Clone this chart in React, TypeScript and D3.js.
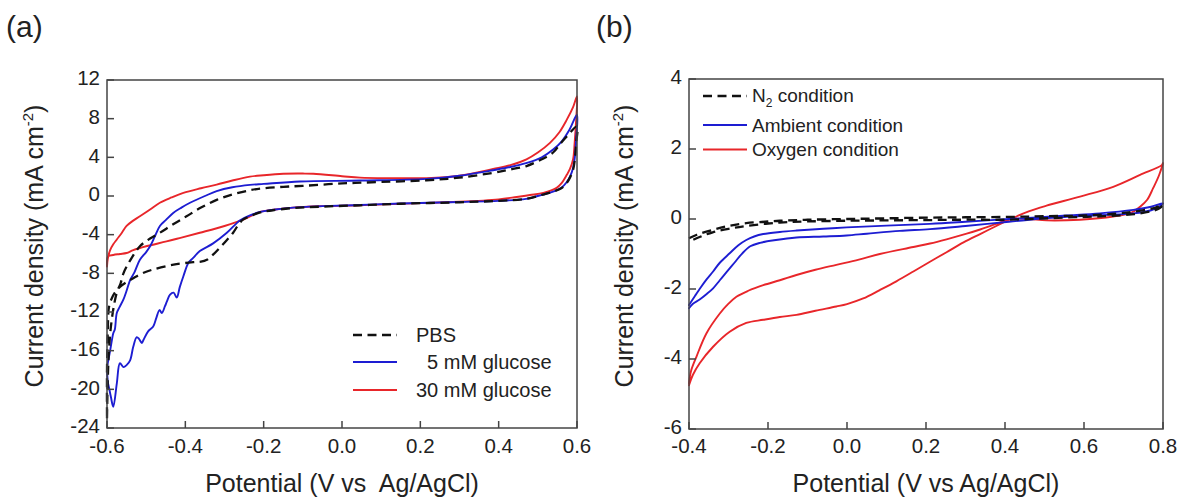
import React from 'react';
import * as d3 from 'd3';

// ---------- Panel (a) data: [potential V, current density mA cm^-2] ----------
const pbsA: [number, number][] = [
  [-0.6, -23], [-0.598, -19], [-0.595, -16], [-0.59, -13.5], [-0.583, -11.5], [-0.575, -10],
  [-0.565, -9], [-0.558, -8], [-0.54, -6.6], [-0.516, -5.2], [-0.49, -4.4], [-0.465, -3.8],
  [-0.43, -2.9], [-0.397, -2.1], [-0.36, -1.2], [-0.32, -0.4], [-0.28, 0.15], [-0.235, 0.6],
  [-0.2, 0.8], [-0.15, 0.95], [-0.1, 1.05], [0, 1.3], [0.1, 1.45], [0.216, 1.63], [0.3, 1.9],
  [0.386, 2.4], [0.43, 2.75], [0.471, 3.1], [0.51, 3.8], [0.539, 4.5], [0.557, 5.4],
  [0.575, 6.2], [0.6, 7.2],
  [0.598, 5.5], [0.595, 4.0], [0.59, 2.7], [0.582, 1.9], [0.573, 1.3], [0.56, 0.8], [0.539, 0.45],
  [0.513, 0.15], [0.47, -0.3], [0.4, -0.5], [0.3, -0.65], [0.15, -0.8], [0.046, -0.96],
  [-0.05, -1.1], [-0.125, -1.24], [-0.18, -1.5], [-0.209, -1.7], [-0.235, -2.1], [-0.253, -2.45],
  [-0.265, -3.0], [-0.278, -3.8], [-0.295, -4.6], [-0.312, -5.35], [-0.33, -6.1], [-0.345, -6.6],
  [-0.36, -6.8], [-0.38, -6.85], [-0.43, -7.1], [-0.482, -7.6], [-0.51, -8.0], [-0.533, -8.5],
  [-0.55, -8.9], [-0.567, -9.4], [-0.58, -10.0], [-0.588, -10.6], [-0.595, -11.5],
  [-0.598, -14], [-0.6, -18], [-0.6, -23],
];

const glucose5A: [number, number][] = [
  [-0.6, -17.7], [-0.592, -16], [-0.584, -14.2], [-0.58, -13.8], [-0.575, -12.1], [-0.568, -11.5],
  [-0.558, -10.7], [-0.55, -9.8], [-0.541, -8.7], [-0.53, -7.9], [-0.516, -6.6], [-0.5, -5.8],
  [-0.49, -5.2], [-0.478, -4.2], [-0.465, -3.1], [-0.45, -2.5], [-0.431, -1.75], [-0.41, -1.2],
  [-0.388, -0.7], [-0.35, 0.0], [-0.32, 0.5], [-0.28, 0.9], [-0.235, 1.15], [-0.2, 1.25],
  [-0.107, 1.5], [0.046, 1.6], [0.216, 1.77], [0.3, 2.1], [0.386, 2.67], [0.43, 3.0],
  [0.47, 3.4], [0.51, 4.0], [0.539, 4.8], [0.56, 5.6], [0.58, 6.8], [0.6, 8.4],
  [0.598, 6], [0.595, 4.2], [0.59, 2.9], [0.582, 2.0], [0.573, 1.4], [0.56, 0.85], [0.539, 0.45],
  [0.513, 0.15], [0.47, -0.3], [0.4, -0.5], [0.3, -0.62], [0.15, -0.78], [0.046, -0.93],
  [-0.05, -1.05], [-0.125, -1.2], [-0.18, -1.45], [-0.209, -1.65], [-0.235, -2.0], [-0.26, -2.5],
  [-0.294, -3.8], [-0.329, -4.9], [-0.363, -5.7], [-0.38, -6.4], [-0.392, -6.9], [-0.405, -8.3],
  [-0.414, -9.4], [-0.422, -10.5], [-0.43, -10.0], [-0.439, -10.2], [-0.447, -10.9],
  [-0.452, -11.4], [-0.46, -12.1], [-0.466, -11.8], [-0.474, -12.6], [-0.482, -13.5],
  [-0.495, -14.0], [-0.507, -14.9], [-0.511, -15.2], [-0.518, -14.8], [-0.524, -14.6],
  [-0.533, -15.6], [-0.541, -17.0], [-0.55, -17.5], [-0.558, -17.7], [-0.567, -17.3],
  [-0.575, -19.4], [-0.584, -21.8], [-0.59, -20.8], [-0.595, -19.8], [-0.598, -19.2], [-0.6, -17.7],
];

const glucose30A: [number, number][] = [
  [-0.6, -7.3], [-0.598, -6.5], [-0.592, -5.6], [-0.584, -5.0], [-0.575, -4.5], [-0.562, -3.8],
  [-0.55, -3.1], [-0.535, -2.6], [-0.516, -2.1], [-0.49, -1.4], [-0.465, -0.7], [-0.435, -0.15],
  [-0.405, 0.32], [-0.36, 0.8], [-0.32, 1.18], [-0.28, 1.6], [-0.235, 2.0], [-0.2, 2.15],
  [-0.15, 2.3], [-0.1, 2.32], [-0.073, 2.3], [0.0, 2.05], [0.046, 1.9], [0.13, 1.85],
  [0.216, 1.85], [0.3, 2.1], [0.386, 2.8], [0.43, 3.2], [0.471, 3.8], [0.5, 4.5], [0.531, 5.5],
  [0.555, 6.6], [0.574, 7.9], [0.59, 9.2], [0.6, 10.3],
  [0.598, 8], [0.594, 5.5], [0.59, 3.8], [0.582, 2.8], [0.574, 2.2], [0.56, 1.3], [0.548, 0.84],
  [0.514, 0.32], [0.48, 0.1], [0.446, -0.1], [0.4, -0.35], [0.3, -0.6], [0.15, -0.8],
  [0.046, -0.95], [-0.05, -1.05], [-0.125, -1.2], [-0.18, -1.45], [-0.209, -1.65],
  [-0.252, -2.45], [-0.3, -3.1], [-0.363, -3.8], [-0.41, -4.3], [-0.448, -4.7], [-0.5, -5.2],
  [-0.533, -5.6], [-0.55, -5.9], [-0.567, -6.0], [-0.584, -6.1], [-0.597, -6.25], [-0.6, -7.3],
];

// ---------- Panel (b) data ----------
const n2B: [number, number][] = [
  [-0.4, -0.55], [-0.38, -0.45], [-0.34, -0.31], [-0.3, -0.2], [-0.255, -0.12], [-0.2, -0.07],
  [-0.17, -0.05], [-0.1, -0.02], [0, 0.0], [0.1, 0.02], [0.21, 0.04], [0.3, 0.05], [0.41, 0.06],
  [0.5, 0.08], [0.6, 0.1], [0.68, 0.15], [0.72, 0.2], [0.76, 0.27], [0.78, 0.32], [0.8, 0.4],
  [0.79, 0.3], [0.77, 0.22], [0.72, 0.13], [0.65, 0.08], [0.55, 0.04], [0.41, -0.02],
  [0.3, -0.02], [0.21, -0.03], [0.1, -0.04], [0, -0.05], [-0.1, -0.07], [-0.17, -0.1],
  [-0.255, -0.2], [-0.3, -0.28], [-0.34, -0.38], [-0.37, -0.5], [-0.4, -0.65],
];

const ambientB: [number, number][] = [
  [-0.4, -2.46], [-0.385, -2.2], [-0.37, -1.95], [-0.355, -1.72], [-0.339, -1.5],
  [-0.322, -1.25], [-0.297, -0.98], [-0.275, -0.75], [-0.255, -0.6], [-0.235, -0.5],
  [-0.212, -0.43], [-0.17, -0.37], [-0.128, -0.33], [-0.06, -0.28], [-0.001, -0.24], [0.1, -0.19],
  [0.21, -0.14], [0.3, -0.08], [0.41, 0.0], [0.5, 0.06], [0.556, 0.1], [0.64, 0.16],
  [0.725, 0.26], [0.77, 0.35], [0.8, 0.45],
  [0.79, 0.35], [0.77, 0.25], [0.725, 0.16], [0.64, 0.11], [0.556, 0.06], [0.5, 0.02],
  [0.41, -0.08], [0.3, -0.2], [0.21, -0.29], [0.134, -0.34], [0.05, -0.42], [-0.001, -0.47],
  [-0.06, -0.5], [-0.128, -0.53], [-0.18, -0.6], [-0.22, -0.68], [-0.245, -0.78],
  [-0.265, -0.98], [-0.285, -1.25], [-0.305, -1.52], [-0.322, -1.75], [-0.339, -1.98],
  [-0.356, -2.15], [-0.373, -2.3], [-0.39, -2.42], [-0.4, -2.55],
];

const oxygenB: [number, number][] = [
  [-0.4, -4.7], [-0.395, -4.35], [-0.381, -3.93], [-0.356, -3.27], [-0.322, -2.7], [-0.3, -2.42],
  [-0.28, -2.22], [-0.25, -2.05], [-0.212, -1.89], [-0.17, -1.75], [-0.128, -1.6], [-0.08, -1.45],
  [-0.027, -1.31], [0.03, -1.16], [0.083, -1.0], [0.168, -0.8], [0.21, -0.7], [0.252, -0.58],
  [0.303, -0.42], [0.337, -0.3], [0.38, -0.13], [0.42, 0.0], [0.46, 0.0], [0.505, -0.04],
  [0.59, -0.02], [0.674, 0.07], [0.72, 0.18], [0.742, 0.35], [0.76, 0.55], [0.775, 0.88],
  [0.79, 1.25], [0.8, 1.6],
  [0.797, 1.54], [0.742, 1.26], [0.674, 0.92], [0.59, 0.64], [0.505, 0.38], [0.46, 0.22],
  [0.42, 0.03], [0.387, -0.15], [0.337, -0.43], [0.295, -0.67], [0.252, -0.95], [0.21, -1.22],
  [0.168, -1.5], [0.125, -1.78], [0.083, -2.03], [0.041, -2.27], [0.0, -2.43], [-0.027, -2.5],
  [-0.08, -2.62], [-0.128, -2.74], [-0.17, -2.8], [-0.212, -2.88], [-0.255, -2.97],
  [-0.297, -3.22], [-0.339, -3.65], [-0.373, -4.12], [-0.39, -4.45], [-0.4, -4.75],
];

// ---------- Ticks ----------
const xTicksA = [-0.6, -0.4, -0.2, 0.0, 0.2, 0.4, 0.6];
const yTicksA = [-24, -20, -16, -12, -8, -4, 0, 4, 8, 12];
const xTicksB = [-0.4, -0.2, 0.0, 0.2, 0.4, 0.6, 0.8];
const yTicksB = [-6, -4, -2, 0, 2, 4];

const legendA = ['PBS', '  5 mM glucose', '30 mM glucose'];
const legendB = ['N', 'Ambient condition', 'Oxygen condition'];

const RED = '#e8262a';
const BLUE = '#1d1dd2';
const BLACK = '#111';
const FONT = '"Liberation Sans", Arial, Helvetica, sans-serif';
const AXIS = '#444';

type Panel = {
  x: d3.ScaleLinear<number, number>;
  y: d3.ScaleLinear<number, number>;
  xTicks: number[];
  yTicks: number[];
  yLabelX: number;
  doubleSpace: boolean;
};

function Frame({ x, y, xTicks, yTicks, yLabelX, doubleSpace }: Panel) {
  const [x0, x1] = x.range();
  const [y0, y1] = y.range();
  const tickLen = 7;
  const xc = (x0 + x1) / 2;
  return (
    <g fontFamily={FONT}>
      <rect x={x0} y={y1} width={x1 - x0} height={y0 - y1} fill="none" stroke={AXIS} strokeWidth={1.5} />
      {xTicks.map((t) => (
        <g key={'x' + t}>
          <line x1={x(t)} x2={x(t)} y1={y0} y2={y0 - tickLen} stroke={AXIS} strokeWidth={1.5} />
          <text x={x(t)} y={453} textAnchor="middle" fontSize={20.5} fill="#222">
            {t.toFixed(1)}
          </text>
        </g>
      ))}
      {yTicks.map((t) => (
        <g key={'y' + t}>
          <line x1={x0} x2={x0 + tickLen} y1={y(t)} y2={y(t)} stroke={AXIS} strokeWidth={1.5} />
          <text x={x0 - 7} y={y(t) - 2} dy="0.35em" textAnchor="end" fontSize={20.5} fill="#222">
            {String(t)}
          </text>
        </g>
      ))}
      <text
        x={xc}
        y={492}
        textAnchor="middle"
        fontSize={25}
        fill="#222"
        xmlSpace="preserve"
        style={{ whiteSpace: 'pre' }}
      >
        {doubleSpace ? 'Potential (V vs  Ag/AgCl)' : 'Potential (V vs Ag/AgCl)'}
      </text>
      <text
        transform={`translate(${yLabelX},246) rotate(-90)`}
        textAnchor="middle"
        fontSize={25}
        fill="#222"
      >
        Current density (mA cm<tspan dy={-10} fontSize={15}>-2</tspan>
        <tspan dy={10}>)</tspan>
      </text>
    </g>
  );
}

export default function App() {
  const xA = d3.scaleLinear().domain([-0.6, 0.6]).range([107, 577]);
  const yA = d3.scaleLinear().domain([-24, 12]).range([428, 80]);
  const xB = d3.scaleLinear().domain([-0.4, 0.8]).range([689, 1163]);
  const yB = d3.scaleLinear().domain([-6, 4]).range([429, 79]);

  const curve = d3.curveCatmullRom.alpha(0.5);
  const lineA = d3.line<[number, number]>().x((d) => xA(d[0])).y((d) => yA(d[1])).curve(curve);
  const lineB = d3.line<[number, number]>().x((d) => xB(d[0])).y((d) => yB(d[1])).curve(curve);

  const dash = '9,5.5';

  return (
    <svg
      width={1181}
      height={500}
      viewBox="0 0 1181 500"
      style={{ position: 'absolute', left: 0, top: 0, background: '#fff' }}
    >
      <rect width={1181} height={500} fill="#fff" />
      <text x={6} y={37} fontFamily={FONT} fontSize={30} fill="#222">(a)</text>
      <text x={596} y={37} fontFamily={FONT} fontSize={30} fill="#222">(b)</text>

      {/* Panel (a) */}
      <g fill="none" strokeLinejoin="round" strokeLinecap="round">
        <path d={lineA(glucose30A) || ''} stroke={RED} strokeWidth={1.9} />
        <path d={lineA(glucose5A) || ''} stroke={BLUE} strokeWidth={1.9} />
        <path d={lineA(pbsA) || ''} stroke={BLACK} strokeWidth={2.3} strokeDasharray={dash} strokeLinecap="butt" />
      </g>
      <Frame x={xA} y={yA} xTicks={xTicksA} yTicks={yTicksA} yLabelX={43} doubleSpace={true} />
      <g fontFamily={FONT} fontSize={20} fill="#222">
        <line x1={353} x2={397} y1={335} y2={335} stroke={BLACK} strokeWidth={2.3} strokeDasharray={dash} />
        <text x={416} y={342} xmlSpace="preserve" style={{ whiteSpace: 'pre' }}>{legendA[0]}</text>
        <line x1={353} x2={397} y1={362} y2={362} stroke={BLUE} strokeWidth={2} />
        <text x={416} y={369} xmlSpace="preserve" style={{ whiteSpace: 'pre' }}>{legendA[1]}</text>
        <line x1={353} x2={397} y1={390} y2={390} stroke={RED} strokeWidth={2} />
        <text x={416} y={397} xmlSpace="preserve" style={{ whiteSpace: 'pre' }}>{legendA[2]}</text>
      </g>

      {/* Panel (b) */}
      <g fill="none" strokeLinejoin="round" strokeLinecap="round">
        <path d={lineB(oxygenB) || ''} stroke={RED} strokeWidth={1.9} />
        <path d={lineB(ambientB) || ''} stroke={BLUE} strokeWidth={1.9} />
        <path d={lineB(n2B) || ''} stroke={BLACK} strokeWidth={2.3} strokeDasharray={dash} strokeLinecap="butt" />
      </g>
      <Frame x={xB} y={yB} xTicks={xTicksB} yTicks={yTicksB} yLabelX={633} doubleSpace={false} />
      <g fontFamily={FONT} fontSize={19} fill="#222">
        <line x1={703} x2={747} y1={96} y2={96} stroke={BLACK} strokeWidth={2.3} strokeDasharray={dash} />
        <text x={752} y={102}>
          {legendB[0]}
          <tspan dy={5} fontSize={12}>2</tspan>
          <tspan dy={-5}> condition</tspan>
        </text>
        <line x1={703} x2={747} y1={125} y2={125} stroke={BLUE} strokeWidth={2} />
        <text x={752} y={131.5}>{legendB[1]}</text>
        <line x1={703} x2={747} y1={149.5} y2={149.5} stroke={RED} strokeWidth={2} />
        <text x={752} y={156}>{legendB[2]}</text>
      </g>
    </svg>
  );
}
